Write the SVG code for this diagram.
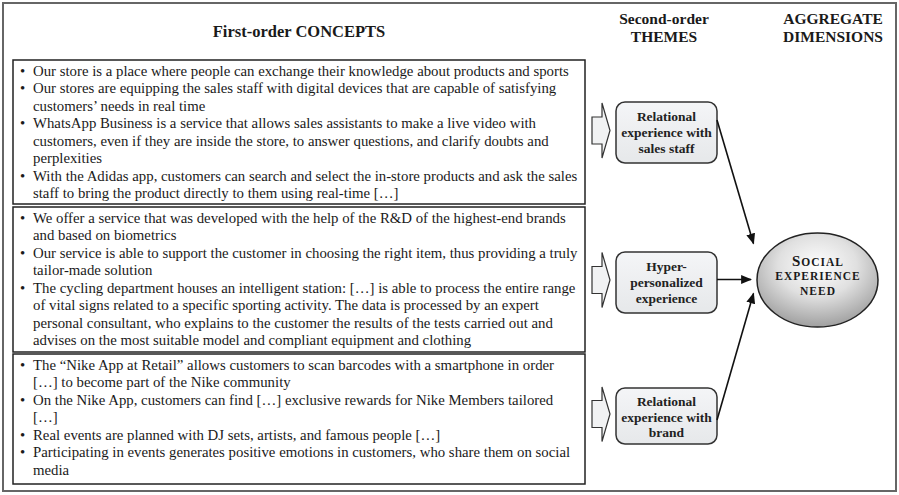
<svg xmlns="http://www.w3.org/2000/svg" width="899" height="495" viewBox="0 0 899 495">
<style>
text{font-family:"Liberation Serif","Times New Roman",serif;fill:#1a1a1a}
.t{font-size:14.8px}
.b{font-size:14.8px}
.h{font-size:15.5px;font-weight:bold;text-anchor:middle}
.th{font-size:13.5px;font-weight:bold;text-anchor:middle;fill:#222}
.box{fill:#fff;stroke:#222;stroke-width:1.5}
.theme{fill:url(#tg);stroke:#333;stroke-width:1.5}
.blk{fill:#f1f2f3;stroke:#333;stroke-width:1.2}
.con{stroke:#111;stroke-width:1.6;fill:none;marker-end:url(#ah)}
.sc{font-size:11.5px;font-weight:bold;text-anchor:middle;letter-spacing:1px}
</style>
<defs>
<linearGradient id="tg" x1="0" y1="0" x2="0" y2="1"><stop offset="0" stop-color="#f4f5f7"/><stop offset="1" stop-color="#e6e8ea"/></linearGradient>
<radialGradient id="eg" cx="50%" cy="35%" r="65%"><stop offset="0" stop-color="#ffffff"/><stop offset="0.5" stop-color="#e0e0e0"/><stop offset="1" stop-color="#a0a0a0"/></radialGradient>
<marker id="ah" viewBox="0 0 10 10" refX="9" refY="5" markerWidth="11" markerHeight="9" orient="auto" markerUnits="userSpaceOnUse" preserveAspectRatio="none"><path d="M0,0 L10,5 L0,10 Z" fill="#111"/></marker>
</defs>
<rect x="3" y="3" width="893" height="488" fill="#fff" stroke="#666" stroke-width="2"/>
<g id="headers">
<text class="h" x="299" y="37" style="font-size:16.5px">First-order CONCEPTS</text>
<text class="h" x="664" y="24">Second-order</text>
<text class="h" x="664" y="41.5">THEMES</text>
<text class="h" x="833" y="24">AGGREGATE</text>
<text class="h" x="833" y="41.5">DIMENSIONS</text>
</g>
<g id="concepts1">
<rect class="box" x="13" y="60" width="572" height="144"/>
<text class="b" x="20" y="76">•</text><text class="t" x="33" y="76">Our store is a place where people can exchange their knowledge about products and sports</text>
<text class="b" x="20" y="93.4">•</text><text class="t" x="33" y="93.4">Our stores are equipping the sales staff with digital devices that are capable of satisfying</text>
<text class="t" x="33" y="110.9">customers’ needs in real time</text>
<text class="b" x="20" y="128.3">•</text><text class="t" x="33" y="128.3">WhatsApp Business is a service that allows sales assistants to make a live video with</text>
<text class="t" x="33" y="145.7">customers, even if they are inside the store, to answer questions, and clarify doubts and</text>
<text class="t" x="33" y="163.2">perplexities</text>
<text class="b" x="20" y="180.6">•</text><text class="t" x="33" y="180.6">With the Adidas app, customers can search and select the in-store products and ask the sales</text>
<text class="t" x="33" y="198">staff to bring the product directly to them using real-time […]</text>
</g>
<g id="concepts2">
<rect class="box" x="13" y="207" width="572" height="145"/>
<text class="b" x="20" y="223">•</text><text class="t" x="33" y="223">We offer a service that was developed with the help of the R&amp;D of the highest-end brands</text>
<text class="t" x="33" y="240.4">and based on biometrics</text>
<text class="b" x="20" y="257.9">•</text><text class="t" x="33" y="257.9">Our service is able to support the customer in choosing the right item, thus providing a truly</text>
<text class="t" x="33" y="275.3">tailor-made solution</text>
<text class="b" x="20" y="292.7">•</text><text class="t" x="33" y="292.7">The cycling department houses an intelligent station: […] is able to process the entire range</text>
<text class="t" x="33" y="310.2">of vital signs related to a specific sporting activity. The data is processed by an expert</text>
<text class="t" x="33" y="327.6">personal consultant, who explains to the customer the results of the tests carried out and</text>
<text class="t" x="33" y="345">advises on the most suitable model and compliant equipment and clothing</text>
</g>
<g id="concepts3">
<rect class="box" x="13" y="354" width="572" height="130"/>
<text class="b" x="20" y="370">•</text><text class="t" x="33" y="370">The “Nike App at Retail” allows customers to scan barcodes with a smartphone in order</text>
<text class="t" x="33" y="387.4">[…] to become part of the Nike community</text>
<text class="b" x="20" y="404.9">•</text><text class="t" x="33" y="404.9">On the Nike App, customers can find […] exclusive rewards for Nike Members tailored</text>
<text class="t" x="33" y="422.3">[…]</text>
<text class="b" x="20" y="439.7">•</text><text class="t" x="33" y="439.7">Real events are planned with DJ sets, artists, and famous people […]</text>
<text class="b" x="20" y="457.2">•</text><text class="t" x="33" y="457.2">Participating in events generates positive emotions in customers, who share them on social</text>
<text class="t" x="33" y="474.6">media</text>
</g>
<g id="theme1">
<path class="blk" d="M592,117 H602 V103 L610,130.5 L602,158 V144 H592 Z"/>
<rect class="theme" x="616" y="102" width="101" height="61" rx="9"/>
<text class="th" x="666.5" y="120.7">Relational</text>
<text class="th" x="666.5" y="137">experience with</text>
<text class="th" x="666.5" y="153">sales staff</text>
</g>
<g id="theme2">
<path class="blk" d="M592,266.5 H602 V252.5 L610,280 L602,307.5 V293.5 H592 Z"/>
<rect class="theme" x="616" y="252" width="101" height="61" rx="9"/>
<text class="th" x="666.5" y="271">Hyper-</text>
<text class="th" x="666.5" y="287">personalized</text>
<text class="th" x="666.5" y="303">experience</text>
</g>
<g id="theme3">
<path class="blk" d="M592,400.5 H602 V387 L610,414 L602,441.5 V427.5 H592 Z"/>
<rect class="theme" x="616" y="388" width="101" height="56" rx="9"/>
<text class="th" x="666.5" y="406">Relational</text>
<text class="th" x="666.5" y="421.7">experience with</text>
<text class="th" x="666.5" y="437.3">brand</text>
</g>
<g id="aggregate">
<ellipse cx="817.5" cy="280" rx="60.5" ry="47" fill="url(#eg)" stroke="#222" stroke-width="1.5"/>
<text class="sc" x="818" y="265.5"><tspan style="font-size:15px">S</tspan>OCIAL</text>
<text class="sc" x="818" y="280">EXPERIENCE</text>
<text class="sc" x="818" y="294.5">NEED</text>
</g>
<g id="connectors">
<line class="con" x1="717" y1="120" x2="753.5" y2="243.5"/>
<line class="con" x1="717" y1="279.5" x2="751" y2="279.5"/>
<line class="con" x1="717" y1="420" x2="753.5" y2="293.5"/>
</g>
</svg>
